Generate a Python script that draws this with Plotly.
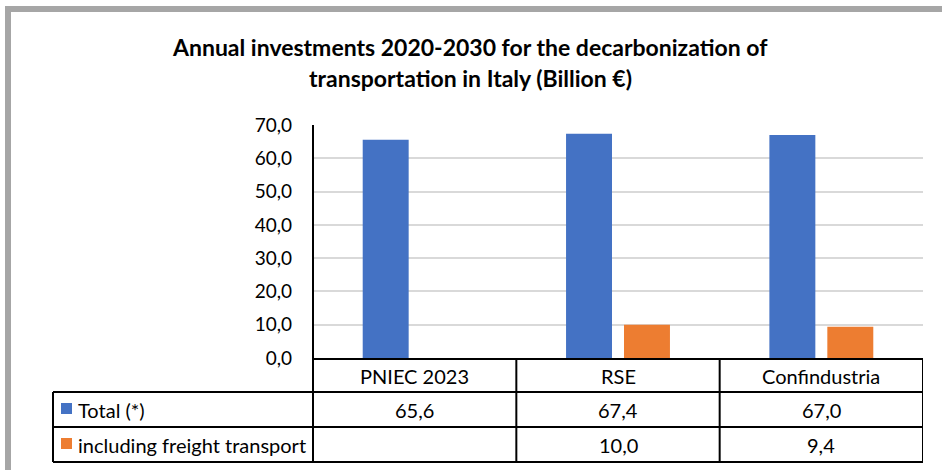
import plotly.graph_objects as go

categories = ["PNIEC 2023", "RSE", "Confindustria"]
total_vals = [65.6, 67.4, 67.0]
freight_vals = [None, 10.0, 9.4]
series_names = ["Total (*)", "including freight transport"]
y_ticks = [0, 10, 20, 30, 40, 50, 60, 70]
title_lines = ["Annual investments 2020-2030 for the decarbonization of",
               "transportation in Italy (Billion €)"]

BLUE = "#4472C4"
ORANGE = "#ED7D31"
FONT = "Lato"
W, H = 942, 470
L, R, T, B = 313, 923, 125, 358  # plot area pixels


def px(x):
    return (x - L) / (R - L)


def py(y):
    return (B - y) / (B - T)


def fmt(v):
    return "" if v is None else f"{v:.1f}".replace(".", ",")


fig = go.Figure()
fig.add_trace(go.Bar(x=categories, y=total_vals, name=series_names[0],
                     marker=dict(color=BLUE, line=dict(width=0))))
fig.add_trace(go.Bar(x=categories, y=freight_vals, name=series_names[1],
                     marker=dict(color=ORANGE, line=dict(width=0))))

shapes = []
ann = []

# outer gray frame
shapes.append(dict(type="rect", xref="paper", yref="paper",
                   x0=px(8), x1=px(960), y0=py(490), y1=py(9),
                   line=dict(color="#A6A6A6", width=6), layer="below"))

black = dict(color="black", width=2)
# table horizontal lines
shapes.append(dict(type="line", xref="paper", yref="paper", x0=0, x1=1, y0=py(359), y1=py(359), line=black))
for yy in (392, 427, 462):
    shapes.append(dict(type="line", xref="paper", yref="paper", x0=px(53), x1=1, y0=py(yy), y1=py(yy), line=black))
# vertical lines: left legend col, axis, category boundaries
shapes.append(dict(type="line", xref="paper", yref="paper", x0=px(53), x1=px(53), y0=py(392), y1=py(462), line=black))
shapes.append(dict(type="line", xref="paper", yref="paper", x0=0, x1=0, y0=py(462), y1=1, line=black))
for i in range(len(categories)):
    xb = i + 0.5
    shapes.append(dict(type="line", xref="x", yref="paper", x0=xb, x1=xb, y0=py(462), y1=py(359), line=black))

# legend keys in table
for k, color in enumerate([BLUE, ORANGE]):
    top = 403 + 35 * k
    shapes.append(dict(type="rect", xref="paper", yref="paper", x0=px(61), x1=px(72),
                       y0=py(top + 11), y1=py(top), fillcolor=color, line=dict(width=0)))
    ann.append(dict(xref="paper", yref="paper", x=px(76), y=py(409.5 + 35 * k), text=series_names[k],
                    showarrow=False, xanchor="left", yanchor="middle",
                    font=dict(family=FONT, size=20, color="black")))

# table cells
for i, c in enumerate(categories):
    ann.append(dict(xref="x", yref="paper", x=i, y=py(375.5), text=c, showarrow=False,
                    xanchor="center", yanchor="middle", font=dict(family=FONT, size=20, color="black")))
    ann.append(dict(xref="x", yref="paper", x=i, y=py(409.5), text=fmt(total_vals[i]), showarrow=False,
                    xanchor="center", yanchor="middle", font=dict(family=FONT, size=20, color="black")))
    ann.append(dict(xref="x", yref="paper", x=i, y=py(444.5), text=fmt(freight_vals[i]), showarrow=False,
                    xanchor="center", yanchor="middle", font=dict(family=FONT, size=20, color="black")))

# title lines
for j, line in enumerate(title_lines):
    ann.append(dict(xref="paper", yref="paper", x=px(470), y=py(47 + 31 * j), text="<b>" + line + "</b>",
                    showarrow=False, xanchor="center", yanchor="middle",
                    font=dict(family=FONT, size=23, color="black")))

fig.update_layout(
    width=W, height=H,
    margin=dict(l=L, r=W - R, t=T, b=H - B, pad=0),
    paper_bgcolor="white", plot_bgcolor="white",
    showlegend=False,
    barmode="group", bargap=0.43, bargroupgap=0.207,
    separators=",.",
    shapes=shapes, annotations=ann,
    xaxis=dict(range=[-0.5, 2.5], showticklabels=False, showgrid=False, zeroline=False,
               showline=False, ticks=""),
    yaxis=dict(range=[0, 70], tickvals=y_ticks, tickformat=".1f", showgrid=True,
               gridcolor="#D9D9D9", gridwidth=1.5, zeroline=False, showline=False,
               ticks="", ticklabelstandoff=20,
               tickfont=dict(family=FONT, size=19, color="black")),
    font=dict(family=FONT),
)

fig.write_html("out.html")
